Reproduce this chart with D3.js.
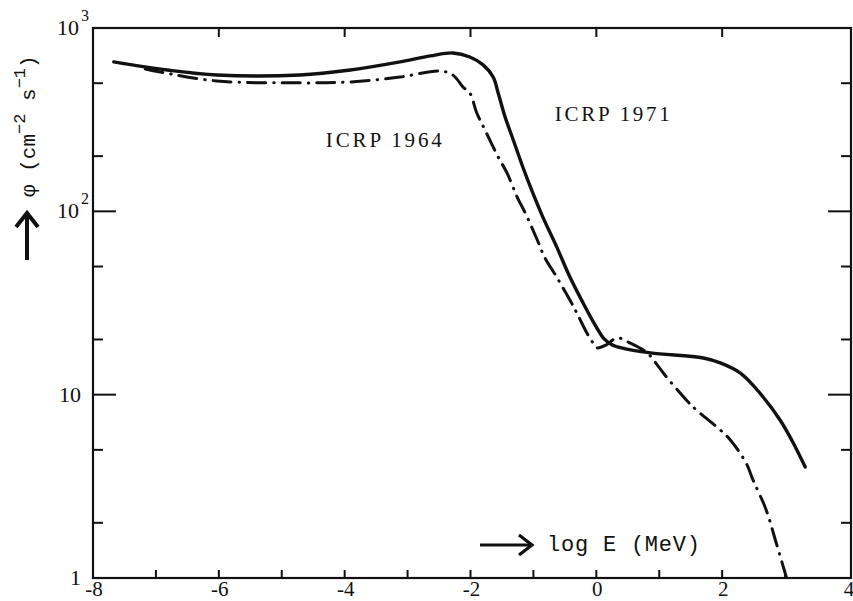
<!DOCTYPE html>
<html>
<head>
<meta charset="utf-8">
<script src="https://cdn.jsdelivr.net/npm/d3@7"></script>
<style>
  html, body { margin: 0; padding: 0; background: #fff; }
  svg { display: block; }
</style>
</head>
<body>
<svg id="chart" width="853" height="601"></svg>
<script>
// ---- data ----
const energyICRP1971 = [-7.67, -6.82, -6.03, -4.71, -3.91, -3.12, -2.64, -2.28, -2.01, -1.80, -1.64, -1.56, -1.45, -1.32, -1.17, -1.01, -0.85, -0.63, -0.42, -0.21, -0.02, 0.12, 0.24, 0.40, 0.86, 1.70, 1.97, 2.29, 2.60, 2.92, 3.13, 3.32];
const fluxICRP1971   = [653, 590, 554, 554, 590, 653, 704, 731, 695, 629, 540, 442, 327, 245, 175, 126, 93, 64, 43.8, 31.6, 24.0, 20.2, 18.8, 18.0, 16.9, 15.85, 14.9, 13.1, 10.2, 7.28, 5.45, 4.03];

const energyICRP1964 = [-7.17, -6.93, -6.03, -4.71, -3.91, -3.12, -2.48, -2.28, -2.12, -2.01, -1.90, -1.77, -1.56, -1.42, -1.26, -1.13, -0.94, -0.82, -0.63, -0.42, -0.31, -0.15, -0.05, 0.01, 0.16, 0.33, 0.54, 0.81, 0.97, 1.09, 1.43, 1.59, 1.97, 2.13, 2.38, 2.49, 2.70, 2.86, 3.02];
const fluxICRP1964   = [598, 575, 514, 502, 508, 540, 583, 554, 477, 442, 344, 278, 198, 162, 120, 98, 70, 56, 43.8, 32.8, 27.9, 21.7, 19.1, 18.0, 18.7, 20.4, 19.1, 16.9, 14.5, 12.8, 9.35, 8.25, 6.42, 5.66, 4.24, 3.43, 2.35, 1.55, 1.01];

const xMajorTicks = [-8, -6, -4, -2, 0, 2, 4];
const xMinorTicks = [-7, -6, -5, -4, -3, -2, -1, 0, 1, 2, 3];
const xTopTicks   = [-6, -4, -2, 0, 2];
const yMajorTicks = [1, 10, 100, 1000];
const yMinorTicks = [2, 5, 20, 50, 200, 500];
const yTickLabels = [
  { v: 1, base: "1", exp: "" },
  { v: 10, base: "10", exp: "" },
  { v: 100, base: "10", exp: "2" },
  { v: 1000, base: "10", exp: "3" }
];
const seriesLabels = [
  { name: "ICRP 1964", e: -4.30, f: 224, len: 116 },
  { name: "ICRP 1971", e: -0.66, f: 311, len: 115 }
];

// ---- layout ----
const L = 93, R = 851, T = 28, B = 578;
const svg = d3.select("#chart");
const x = d3.scaleLinear().domain([-8, 4]).range([L, 848]);
const y = d3.scaleLog().domain([1, 1000]).range([B, T]);
const serif = "'Liberation Serif', 'Times New Roman', serif";
const mono = "'Liberation Mono', 'Courier New', monospace";
const ink = "#111";

// frame
svg.append("rect").attr("x", L).attr("y", T).attr("width", R - L).attr("height", B - T)
  .attr("fill", "none").attr("stroke", ink).attr("stroke-width", 2.2);

// ticks
const tk = svg.append("g").attr("stroke", ink).attr("stroke-width", 2);
xMinorTicks.forEach(v => tk.append("line").attr("x1", x(v)).attr("x2", x(v)).attr("y1", B).attr("y2", B - 8));
xTopTicks.forEach(v => tk.append("line").attr("x1", x(v)).attr("x2", x(v)).attr("y1", T).attr("y2", T + 9));
yMajorTicks.forEach(v => {
  tk.append("line").attr("x1", L).attr("x2", L + 23).attr("y1", y(v)).attr("y2", y(v));
  tk.append("line").attr("x1", R).attr("x2", R - 23).attr("y1", y(v)).attr("y2", y(v));
});
yMinorTicks.forEach(v => {
  tk.append("line").attr("x1", L).attr("x2", L + 10).attr("y1", y(v)).attr("y2", y(v));
  tk.append("line").attr("x1", R).attr("x2", R - 10).attr("y1", y(v)).attr("y2", y(v));
});

// x tick labels
svg.append("g").selectAll("text").data(xMajorTicks).join("text")
  .attr("x", d => x(d) + 1).attr("y", 596)
  .attr("text-anchor", "middle")
  .attr("font-family", serif).attr("font-size", 21).attr("fill", ink)
  .text(d => d < 0 ? "-" + Math.abs(d) : String(d));

// y tick labels
const yl = svg.append("g").attr("font-family", serif).attr("fill", ink);
yTickLabels.forEach(d => {
  yl.append("text")
    .attr("x", d.exp ? 79 : 81).attr("y", y(d.v) + 7)
    .attr("text-anchor", "end").attr("font-size", 22)
    .text(d.base);
  if (d.exp) {
    yl.append("text").attr("x", 81).attr("y", y(d.v) - 7)
      .attr("font-size", 16).text(d.exp);
  }
});

// curves
const line = d3.line().x(d => x(d[0])).y(d => y(d[1])).curve(d3.curveCatmullRom.alpha(0.5));
const solid = energyICRP1971.map((e, i) => [e, fluxICRP1971[i]]);
const dashed = energyICRP1964.map((e, i) => [e, fluxICRP1964[i]]);

svg.append("path").attr("d", line(dashed))
  .attr("fill", "none").attr("stroke", ink).attr("stroke-width", 3)
  .attr("stroke-linecap", "round").attr("stroke-dasharray", "18,8,0.5,8");
svg.append("path").attr("d", line(solid))
  .attr("fill", "none").attr("stroke", ink).attr("stroke-width", 3.4)
  .attr("stroke-linecap", "round").attr("stroke-linejoin", "round");

// series labels
svg.append("g").selectAll("text").data(seriesLabels).join("text")
  .attr("x", d => x(d.e)).attr("y", d => y(d.f))
  .attr("font-family", serif).attr("font-size", 21).attr("fill", ink)
  .attr("textLength", d => d.len).attr("lengthAdjust", "spacing")
  .text(d => d.name);

// x axis label with arrow
const xa = svg.append("g");
xa.append("line").attr("x1", 480).attr("x2", 531).attr("y1", 545).attr("y2", 545)
  .attr("stroke", ink).attr("stroke-width", 3.2);
xa.append("path").attr("d", "M519,535 L532,545 L519,555")
  .attr("fill", "none").attr("stroke", ink).attr("stroke-width", 3.2)
  .attr("stroke-linejoin", "miter");
xa.append("text").attr("x", 547).attr("y", 551)
  .attr("font-family", mono).attr("font-size", 22).attr("fill", ink)
  .attr("textLength", 153).attr("lengthAdjust", "spacing")
  .text("log E (MeV)");

// y axis label with arrow
const ya = svg.append("g");
ya.append("line").attr("x1", 27).attr("x2", 27).attr("y1", 260).attr("y2", 213)
  .attr("stroke", ink).attr("stroke-width", 4);
ya.append("path").attr("d", "M16,227 L27,213 L38,227")
  .attr("fill", "none").attr("stroke", ink).attr("stroke-width", 4);
const yt = ya.append("text").attr("transform", "translate(35,197) rotate(-90)")
  .attr("font-family", mono).attr("font-size", 21).attr("fill", ink);
yt.append("tspan").text("φ (cm");
yt.append("tspan").attr("dy", -10).attr("font-size", 17).text("−2");
yt.append("tspan").attr("dy", 10).text(" s");
yt.append("tspan").attr("dy", -10).attr("font-size", 17).text("−1");
yt.append("tspan").attr("dy", 10).text(")");
</script>
</body>
</html>
